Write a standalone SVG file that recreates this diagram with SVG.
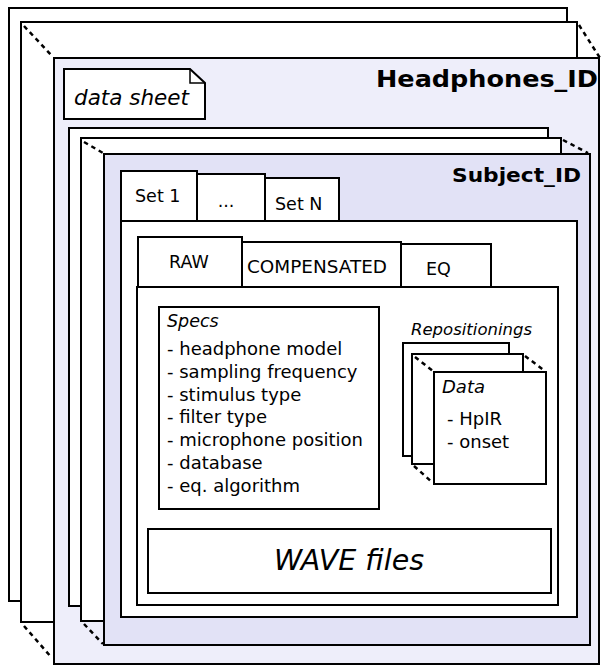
<svg xmlns="http://www.w3.org/2000/svg" width="602" height="666" viewBox="0 0 602 666">
<style>
.box{stroke:#000;stroke-width:2;fill:#fff}
.hp{stroke:#000;stroke-width:2;fill:#eeeefa}
.sj{stroke:#000;stroke-width:2;fill:#e2e2f6}
.dash{stroke:#000;stroke-width:2.5;stroke-dasharray:4.5 4;fill:none}
.t{font-family:"DejaVu Sans","Liberation Sans",sans-serif;fill:#000}
.i{font-style:italic}
.b{font-weight:bold}
</style>
<rect width="602" height="666" fill="#fff"/>
<g id="headphones-stack">
<rect class="box" x="9" y="8" width="558" height="593"/>
<rect class="box" x="21" y="22" width="556" height="600"/>
</g>
<g id="headphones">
<rect class="hp" x="54" y="58" width="545" height="606"/>
<text class="t b" x="376" y="87" font-size="23.5" textLength="222" lengthAdjust="spacingAndGlyphs">Headphones_ID</text>
</g>
<g id="data-sheet">
<path class="box" d="M64,69 H190 L205,83 V119 H64 Z"/>
<path d="M190,69 V83 H205" fill="none" stroke="#000" stroke-width="1.5"/>
<text class="t i" x="74" y="105" font-size="21.5">data sheet</text>
</g>
<g id="subject-stack">
<rect class="box" x="69" y="128" width="479" height="478"/>
<rect class="box" x="81" y="138" width="480" height="483"/>
</g>
<g id="subject">
<rect class="sj" x="104" y="154" width="486" height="491"/>
<text class="t b" x="452" y="182" font-size="20" textLength="129" lengthAdjust="spacingAndGlyphs">Subject_ID</text>
</g>
<g id="set-tabs">
<rect class="box" x="265" y="178" width="74" height="50"/>
<text class="t" x="275" y="210" font-size="17.5">Set N</text>
<rect class="box" x="197" y="174" width="68" height="54"/>
<text class="t" x="226" y="207" font-size="17.5" text-anchor="middle">...</text>
<rect class="box" x="121" y="171" width="76" height="57"/>
<text class="t" x="135" y="202" font-size="17.5">Set 1</text>
</g>
<g id="set-content">
<rect class="box" x="121" y="221" width="456" height="396"/>
</g>
<g id="type-tabs">
<rect class="box" x="401" y="244" width="90" height="50"/>
<text class="t" x="426" y="275" font-size="17.5">EQ</text>
<rect class="box" x="242" y="242" width="159" height="52"/>
<text class="t" x="247" y="273" font-size="18" textLength="140" lengthAdjust="spacingAndGlyphs">COMPENSATED</text>
<rect class="box" x="138" y="237" width="104" height="57"/>
<text class="t" x="169" y="268" font-size="17.5">RAW</text>
</g>
<g id="type-content">
<rect class="box" x="137" y="287" width="421" height="318"/>
</g>
<g id="specs">
<rect class="box" x="159" y="307" width="220" height="202"/>
<text class="t i" x="167" y="327" font-size="17.5">Specs</text>
<g class="t" font-size="18">
<text x="167" y="355">- headphone model</text>
<text x="167" y="377.8">- sampling frequency</text>
<text x="167" y="400.6">- stimulus type</text>
<text x="167" y="423.4">- filter type</text>
<text x="167" y="446.2">- microphone position</text>
<text x="167" y="469">- database</text>
<text x="167" y="491.8">- eq. algorithm</text>
</g>
</g>
<g id="repositionings">
<text class="t i" x="411" y="335" font-size="16.5">Repositionings</text>
<rect class="box" x="403" y="343" width="106" height="113"/>
<rect class="box" x="412" y="354" width="111" height="110"/>
</g>
<g id="data">
<rect class="box" x="434" y="372" width="112" height="112"/>
<text class="t i" x="442" y="393" font-size="18">Data</text>
<text class="t" x="447" y="425" font-size="18">- HpIR</text>
<text class="t" x="447" y="448" font-size="18">- onset</text>
</g>
<g id="wave-files">
<rect class="box" x="148" y="529" width="403" height="64"/>
<text class="t i" x="349" y="570" font-size="28.5" text-anchor="middle">WAVE files</text>
</g>
<g id="connectors">
<line class="dash" x1="24" y1="26" x2="53" y2="57"/>
<line class="dash" x1="579" y1="25" x2="600" y2="58"/>
<line class="dash" x1="24" y1="626" x2="52" y2="658"/>
<line class="dash" x1="84" y1="142" x2="103" y2="153"/>
<line class="dash" x1="563" y1="140" x2="588" y2="153"/>
<line class="dash" x1="84" y1="624" x2="103" y2="644"/>
<line class="dash" x1="415" y1="357" x2="433" y2="371"/>
<line class="dash" x1="525" y1="356" x2="545" y2="371"/>
<line class="dash" x1="414" y1="466" x2="433" y2="483"/>
</g>
</svg>
